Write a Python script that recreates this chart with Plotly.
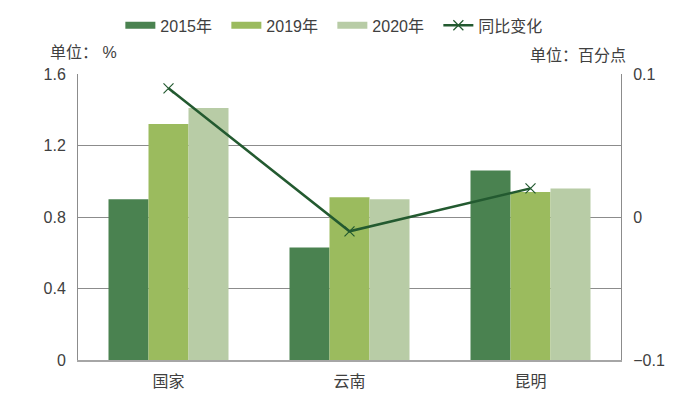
import plotly.graph_objects as go

categories = ["国家", "云南", "昆明"]
v2015 = [0.90, 0.63, 1.06]
v2019 = [1.32, 0.91, 0.94]
v2020 = [1.41, 0.90, 0.96]
yoy = [0.09, -0.01, 0.02]

left_ticks = [0, 0.4, 0.8, 1.2, 1.6]
left_ticktext = ["0", "0.4", "0.8", "1.2", "1.6"]
right_ticks = [-0.1, 0, 0.1]
right_ticktext = ["\u22120.1", "0", "0.1"]

c2015 = "#4A8250"
c2019 = "#9BBB5E"
c2020 = "#B8CCA6"
cline = "#235A30"
txt = "#404040"
FONT = "Liberation Sans, Arial, Noto Sans CJK SC, sans-serif"

fig = go.Figure()
for name, vals, col in [("2015年", v2015, c2015), ("2019年", v2019, c2019), ("2020年", v2020, c2020)]:
    fig.add_trace(go.Bar(x=categories, y=vals, name=name, marker=dict(color=col, line=dict(width=0)),
                         showlegend=False))
    fig.add_trace(go.Scatter(x=[None], y=[None], mode="lines", name=name,
                             line=dict(color=col, width=7), showlegend=True))

fig.add_trace(go.Scatter(x=categories, y=yoy, name="同比变化", yaxis="y2", mode="lines+markers",
                         line=dict(color=cline, width=2.5),
                         marker=dict(symbol="x-thin", size=10, line=dict(color=cline, width=1.2))))

fig.update_layout(
    width=695, height=394,
    margin=dict(l=78, r=74, t=74, b=34, autoexpand=False),
    paper_bgcolor="white", plot_bgcolor="white",
    barmode="group", bargap=0.337, bargroupgap=0,
    font=dict(family=FONT, size=16, color=txt),
    legend=dict(orientation="h", x=0.078, y=1.17, xanchor="left", yanchor="middle",
                font=dict(size=16, color=txt), itemwidth=30, tracegroupgap=0,
                entrywidth=61, entrywidthmode="pixels",
                bgcolor="rgba(0,0,0,0)"),
    xaxis=dict(showline=True, linecolor="#A6A6A6", linewidth=2, ticks="", showgrid=False,
               tickfont=dict(size=16, color=txt), ticklabelstandoff=6),
    yaxis=dict(range=[0, 1.6], tickvals=left_ticks, ticktext=left_ticktext,
               showgrid=True, gridcolor="#8C8C8C", gridwidth=1,
               showline=True, linecolor="#8C8C8C", linewidth=1, ticks="", zeroline=False,
               tickfont=dict(size=16, color=txt), ticklabelstandoff=8),
    yaxis2=dict(range=[-0.1, 0.1], tickvals=right_ticks, ticktext=right_ticktext,
                overlaying="y", side="right", showgrid=False, zeroline=False,
                showline=True, linecolor="#8C8C8C", linewidth=1, ticks="",
                tickfont=dict(size=16, color=txt), ticklabelstandoff=8),
    annotations=[
        dict(text="单位： %", xref="paper", yref="paper", x=-0.055, y=1.075, xanchor="left",
             yanchor="middle", showarrow=False, font=dict(size=16, color=txt)),
        dict(text="单位：百分点", xref="paper", yref="paper", x=1.013, y=1.065, xanchor="right",
             yanchor="middle", showarrow=False, font=dict(size=16, color=txt)),
    ],
)

fig.write_html("out.html", config={"displayModeBar": False},
               post_script="document.body.style.margin='0';document.body.style.overflow='hidden';")
